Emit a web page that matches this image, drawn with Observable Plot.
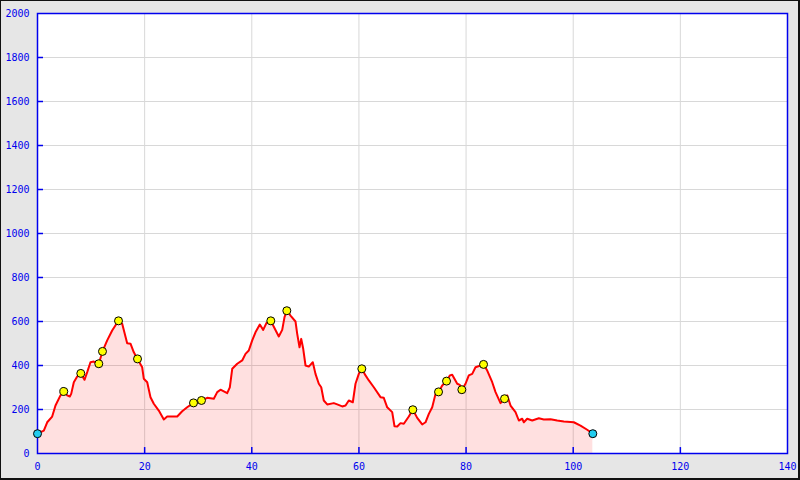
<!DOCTYPE html>
<html>
<head>
<meta charset="utf-8">
<script src="https://cdn.jsdelivr.net/npm/d3@7"></script>
<script src="https://cdn.jsdelivr.net/npm/@observablehq/plot@0.6"></script>
<style>
  html, body { margin: 0; padding: 0; background: #e6e6e6; }
  #wrap { position: relative; width: 800px; height: 480px; overflow: hidden; }
  #border { position: absolute; left: 0; top: 0; width: 800px; height: 480px; box-sizing: border-box;
            border-style: solid; border-color: #111; border-width: 1px 2px 2px 1px; pointer-events: none; }
  svg { display: block; }
</style>
</head>
<body>
<div id="wrap"><div id="border"></div></div>
<script>
// Elevation profile: distance (km) and elevation (m)
const distance = [0, 1.18, 1.81, 2.74, 3.36, 4.29, 4.91, 5.54, 6.03, 6.29, 6.78, 7.41, 8.08, 8.77, 9.28, 9.89, 10.51, 11.14, 11.44, 12.13, 13.01, 13.94, 14.75, 15.12, 15.81, 16.74, 17.36, 17.98, 18.67, 19.54, 19.84, 20.48, 21.09, 21.71, 22.64, 23.58, 24.21, 26.08, 27.01, 27.94, 29.12, 30.61, 31.68, 32.91, 33.55, 34.16, 35.41, 35.9, 36.35, 37.28, 38.21, 38.83, 39.44, 40.08, 40.69, 41.5, 42.13, 42.75, 43.55, 44.3, 45.04, 45.68, 46.11, 46.54, 47.23, 48.16, 48.48, 48.91, 49.23, 49.6, 50.03, 50.64, 51.39, 51.89, 52.51, 52.96, 53.44, 54.08, 55.31, 55.95, 56.88, 57.5, 58.11, 58.86, 59.36, 59.98, 60.54, 61.23, 61.85, 62.78, 64.03, 64.64, 65.28, 66.21, 66.64, 67.15, 67.76, 68.38, 69.31, 70.06, 70.88, 71.81, 72.43, 73.05, 73.68, 74.3, 74.86, 75.55, 76.35, 76.97, 77.41, 78.35, 78.83, 79.21, 79.9, 80.51, 81.15, 81.76, 82.7, 83.26, 83.95, 84.88, 85.5, 86.43, 87.18, 87.68, 88.3, 89.23, 89.85, 90.48, 90.78, 91.41, 92.35, 93.58, 94.51, 95.76, 97.01, 98.25, 100.11, 101.36, 102.61, 103.66];
const elevation = [90, 104, 142, 168, 218, 264, 282, 264, 259, 271, 324, 350, 364, 335, 370, 415, 418, 408, 408, 464, 514, 559, 590, 603, 590, 501, 499, 460, 430, 392, 340, 324, 256, 226, 195, 155, 168, 168, 192, 210, 230, 241, 253, 249, 279, 290, 274, 301, 385, 408, 423, 453, 468, 514, 551, 586, 562, 594, 603, 567, 532, 562, 620, 649, 627, 600, 544, 483, 521, 476, 400, 395, 415, 362, 317, 301, 241, 223, 229, 223, 214, 218, 241, 233, 317, 362, 385, 355, 332, 301, 256, 253, 210, 188, 124, 123, 138, 135, 168, 199, 162, 132, 142, 180, 210, 271, 280, 309, 329, 355, 358, 317, 312, 290, 317, 355, 362, 392, 400, 405, 377, 324, 279, 229, 249, 264, 218, 188, 150, 158, 142, 158, 150, 160, 155, 156, 150, 145, 142, 127, 108, 90];

// Waypoints (yellow) and start/end points (cyan)
const waypointDist = [4.91, 8.08, 11.44, 12.13, 15.12, 18.67, 29.12, 30.61, 43.55, 46.54, 60.54, 70.06, 74.86, 76.35, 79.21, 83.26, 87.18];
const waypointElev = [282, 364, 408, 464, 603, 430, 230, 241, 603, 649, 385, 199, 280, 329, 290, 405, 249];
const endpointDist = [0, 103.66];
const endpointElev = [90, 90];

const xTicks = [0, 20, 40, 60, 80, 100, 120, 140];
const yTicks = [0, 200, 400, 600, 800, 1000, 1200, 1400, 1600, 1800, 2000];

const profile = distance.map((d, i) => ({d, e: elevation[i]}));
const waypoints = waypointDist.map((d, i) => ({d, e: waypointElev[i]}));
const endpoints = endpointDist.map((d, i) => ({d, e: endpointElev[i]}));

const blue = "#0000ee";
const innerX = xTicks.filter(t => t > 0 && t < 140);
const innerY = yTicks.filter(t => t > 0 && t < 2000);
const chart = Plot.plot({
  width: 800,
  height: 480,
  marginLeft: 37,
  marginRight: 13,
  marginTop: 13,
  marginBottom: 27,
  style: {background: "transparent", fontFamily: "'DejaVu Sans Mono', monospace", fontSize: "10px", color: blue},
  x: {domain: [0, 140], label: null},
  y: {domain: [0, 2000], label: null},
  marks: [
    Plot.frame({fill: "white", stroke: null}),
    Plot.ruleX(innerX, {x: d => d, stroke: "#d8d8d8", strokeWidth: 1}),
    Plot.ruleY(innerY, {y: d => d, stroke: "#d8d8d8", strokeWidth: 1}),
    Plot.areaY(profile, {x: "d", y: "e", fill: "#ff0000", fillOpacity: 0.12}),
    Plot.line(profile, {x: "d", y: "e", stroke: "#ff0000", strokeWidth: 2}),
    Plot.frame({stroke: blue, strokeWidth: 1.5}),
    Plot.ruleX(innerX, {x: d => d, y1: 0, y2: 27, stroke: blue, strokeWidth: 1.5}),
    Plot.ruleY(innerY, {y: d => d, x1: 0, x2: 1.12, stroke: blue, strokeWidth: 1.5}),
    Plot.text(xTicks, {x: d => d, y: 0, dy: 13, text: d => String(d), fill: blue, textAnchor: "middle"}),
    Plot.text(yTicks, {x: 0, y: d => d, dx: -8, text: d => String(d), fill: blue, textAnchor: "end"}),
    Plot.dot(waypoints, {x: "d", y: "e", r: 4, fill: "#ffff00", stroke: "#000", strokeWidth: 1}),
    Plot.dot(endpoints, {x: "d", y: "e", r: 4, fill: "#22ccee", stroke: "#000", strokeWidth: 1})
  ],
  axis: null
});
chart.style.overflow = "visible";
document.getElementById("wrap").prepend(chart);
</script>
</body>
</html>
